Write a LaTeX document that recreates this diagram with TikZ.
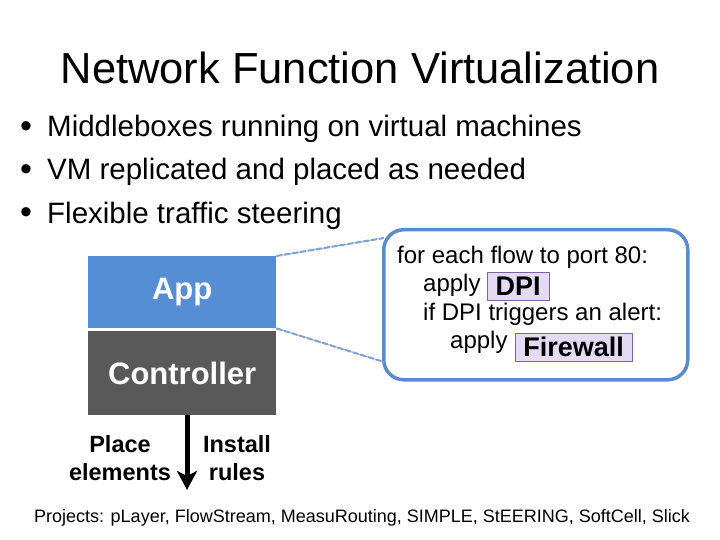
\documentclass[tikz,border=0pt]{standalone}
\usepackage{fontspec}
\setmainfont{Liberation Sans}
\usepackage{xcolor}
\usetikzlibrary{arrows.meta,positioning,shapes}

\definecolor{appblue}{RGB}{85,142,213}
\definecolor{ctrlgrey}{RGB}{89,89,89}
\definecolor{calloutblue}{RGB}{91,139,205}
\definecolor{nflilac}{RGB}{229,218,243}
\definecolor{nfpurple}{RGB}{128,100,162}

\newcommand{\slidebullet}{\makebox[27pt][l]{\raisebox{-1pt}{\fontsize{34}{34}\selectfont\textbullet}}}

\tikzset{
  layerbox/.style={minimum width=188pt,inner sep=0pt,text=white,font=\fontsize{31}{34}\selectfont\bfseries},
  bulletline/.style={anchor=base west,font=\fontsize{29.5}{32}\selectfont,inner sep=0pt},
  codeline/.style={anchor=base west,font=\fontsize{24}{26}\selectfont,inner sep=0pt},
  nfbox/.style={draw=nfpurple,fill=nflilac,font=\fontsize{27}{28}\selectfont\bfseries,inner sep=0pt,minimum height=28pt},
  steerline/.style={calloutblue!80,line width=2pt,dash pattern=on 6pt off 2pt,
    preaction={draw,calloutblue!70,line width=0.8pt,solid}},
  lowlabel/.style={align=center,font=\fontsize{23.5}{28}\selectfont\bfseries}
}

\begin{document}
\begin{tikzpicture}[x=1pt,y=-1pt]
    \useasboundingbox (0,0) rectangle (720,540);

    % Title and bullets
    \node[anchor=base] (title) at (360,84) {\fontsize{43.5}{48}\selectfont Network Function Virtualization};
    \node[bulletline] (b1) at (20,137) {\slidebullet Middleboxes running on virtual machines};
    \node[bulletline] (b2) at (20,180) {\slidebullet VM replicated and placed as needed};
    \node[bulletline] (b3) at (20,223) {\slidebullet Flexible traffic steering};

    % Controller stack
    \node[layerbox,fill=appblue,minimum height=72pt,anchor=north west] (app) at (88,256) {App};
    \node[layerbox,fill=ctrlgrey,minimum height=84pt,anchor=north west] (ctrl) at (88,331) {Controller};
    \coordinate (down) at (187,490);
    \draw[-{Stealth[width=20pt,length=19pt,inset=5pt]},line width=5pt] (ctrl.south -| down) -- (down);
    \node[lowlabel] (place) at (120,458) {Place\\elements};
    \node[lowlabel] (install) at (237,458) {Install\\rules};

    % Steering policy callout
    \node[draw=calloutblue,line width=3.5pt,rounded corners=20pt,minimum width=304pt,minimum height=150pt,anchor=north west] (callout) at (382,228) {};
    \node[codeline] (l1) at (397,263) {for each flow to port 80:};
    \node[codeline] (l2) at (423,291) {apply};
    \node[nfbox,minimum width=62pt,anchor=north west] (dpi) at (487,272) {DPI};
    \node[codeline] (l3) at (423,320) {if DPI triggers an alert:};
    \node[codeline] (l4) at (450,348) {apply};
    \node[nfbox,minimum width=117pt,anchor=north west] (fw) at (515,333) {Firewall};

    \coordinate (ctop) at (384,238);
    \coordinate (cbot) at (384,362);
    \draw[steerline] (app.north east) -- (ctop);
    \draw[steerline] (app.south east) -- (cbot);

    % Footer
    \node[anchor=base,font=\fontsize{18}{20}\selectfont] (projects) at (362,522) {Projects: pLayer, FlowStream, MeasuRouting, SIMPLE, StEERING, SoftCell, Slick};
\end{tikzpicture}
\end{document}
